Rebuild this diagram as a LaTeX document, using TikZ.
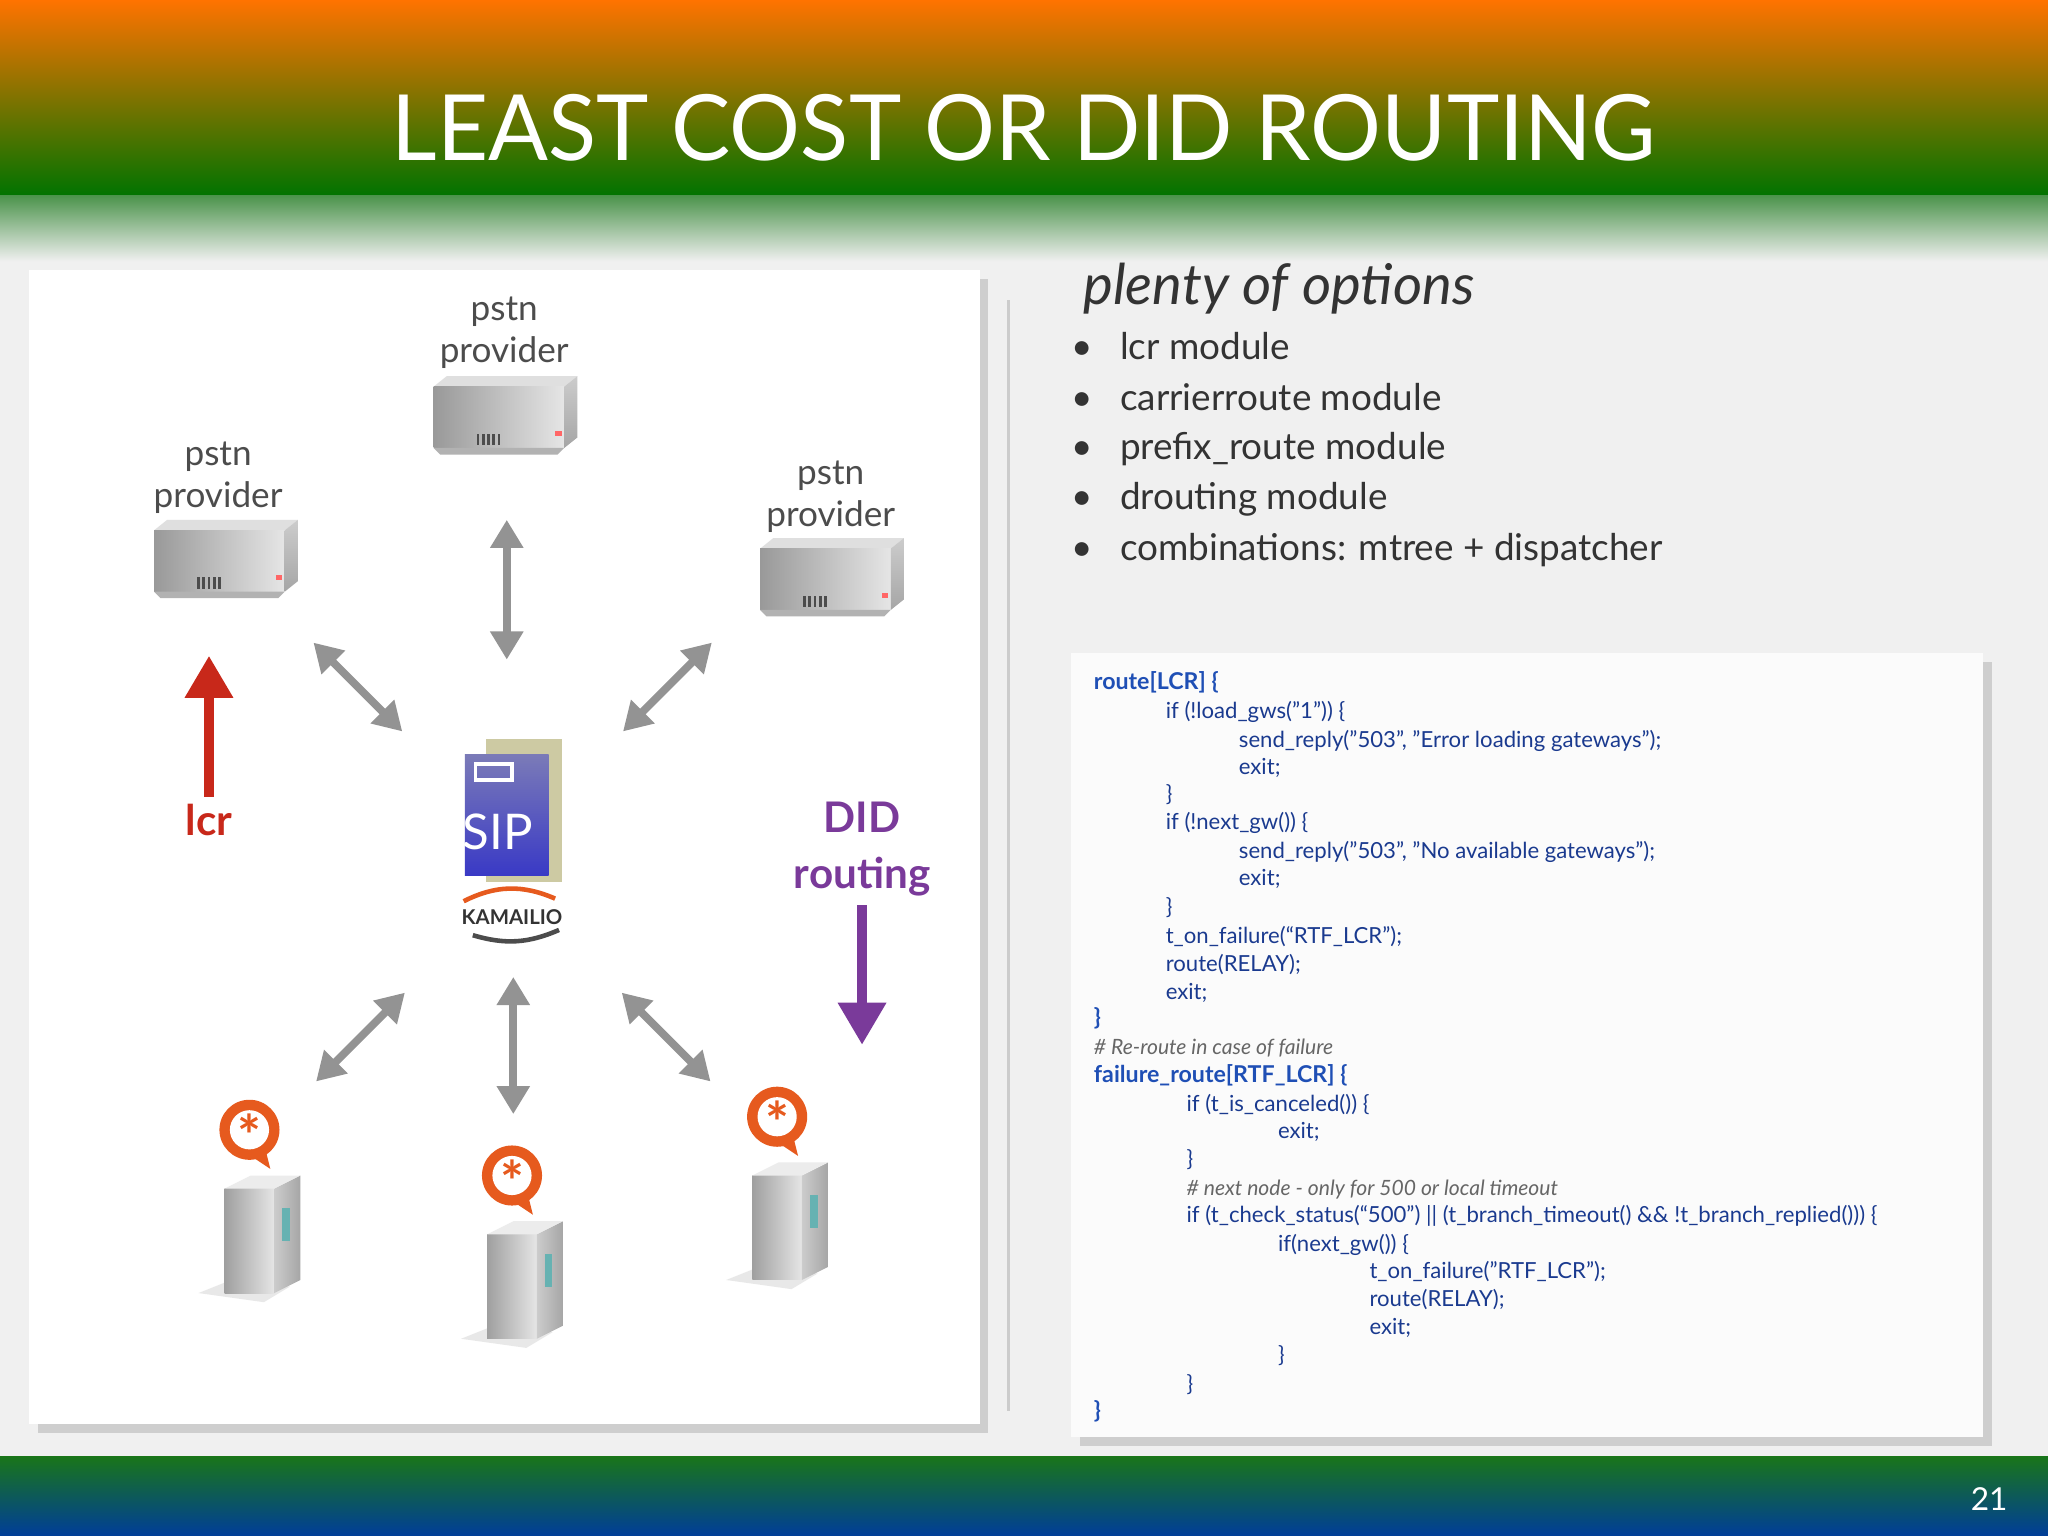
\documentclass[tikz,border=0pt]{standalone}
\usepackage{fontspec}
\setmainfont{Lato}
\usetikzlibrary{arrows.meta,shadows}
\definecolor{codeblue}{HTML}{1A3A8F}
\definecolor{headblue}{HTML}{1F4FB5}
\definecolor{lcrred}{HTML}{C8281A}
\definecolor{didpurple}{HTML}{7A3A9A}
\definecolor{orng}{HTML}{E65A1E}
\begin{document}
\begin{tikzpicture}[x=0.013061cm,y=-0.013061cm,
  code/.style={anchor=base west,font=\fontsize{6.3}{7}\selectfont,text=codeblue,inner sep=0},
  codeh/.style={code,text=headblue,font=\fontsize{6.6}{7}\selectfont\bfseries},
  codec/.style={code,text=gray!80!black,font=\fontsize{6}{7}\selectfont\itshape},
  bul/.style={anchor=base west,font=\fontsize{10.5}{12}\selectfont,text=black!80,inner sep=0},
  dbl/.style={{Triangle[width=9pt,length=8pt]}-{Triangle[width=9pt,length=8pt]},line width=2.2pt,draw=gray!85},
  lbl/.style={font=\fontsize{10}{12}\selectfont,text=black!70,align=center,inner sep=0}]
\useasboundingbox (0,0) rectangle (1568,1176);
\fill[gray!12] (0,0) rectangle (1568,1176);
\shade[top color=orange!90!red, bottom color=green!45!black] (0,0) rectangle (1568,150);
\shade[top color=green!40!black!70, bottom color=gray!12] (0,150) rectangle (1568,200);
\shade[top color=green!40!black!90, bottom color=cyan!40!blue!60!black] (0,1115) rectangle (1568,1176);
\node[text=white,font=\fontsize{26}{30}\selectfont\addfontfeature{FakeStretch=0.97}] (title) at (784,98) {LEAST COST OR DID ROUTING};
\node[text=white,font=\fontsize{9}{10}\selectfont] (pg) at (1523,1148) {21};
% left panel
\fill[white,drop shadow={opacity=0.3}] (22,207) rectangle (750,1090);
\draw[gray!40,line width=1pt] (772,230) -- (772,1080);
% pstn providers
\newcommand{\pstnbox}[2]{%
  \fill[gray!25] (#1-55,#2-22) -- (#1+45,#2-22) -- (#1+55,#2-30) -- (#1-45,#2-30) -- cycle;
  \shade[left color=gray!80,right color=gray!20] (#1-55,#2-22) rectangle (#1+45,#2+25);
  \shade[top color=gray!40,bottom color=gray!70] (#1+45,#2-22) -- (#1+55,#2-30) -- (#1+55,#2+17) -- (#1+45,#2+25) -- cycle;
  \fill[gray!60] (#1-55,#2+25) -- (#1+45,#2+25) -- (#1+40,#2+30) -- (#1-50,#2+30) -- cycle;
  \foreach \k in {0,...,4} {\fill[black!70] (#1-22+\k*4,#2+14) rectangle (#1-20+\k*4,#2+23);}
  \fill[red!60] (#1+38,#2+12) rectangle (#1+43,#2+16);}
\pstnbox{387}{318}
\pstnbox{173}{428}
\pstnbox{637}{442}
\node[lbl] (p1) at (386,255) {pstn\\provider};
\node[lbl] (p2) at (167,366) {pstn\\provider};
\node[lbl] (p3) at (636,380) {pstn\\provider};
% center SIP
\fill[gray!55!olive!45] (372,566) rectangle (430,675);
\shade[top color=blue!30!gray!80,bottom color=blue!55!gray] (356,578) rectangle (420,670);
\draw[white,line width=1pt] (364,585) rectangle (392,597);
\node[text=white,font=\fontsize{14}{14}\selectfont] (sip) at (381,637) {SIP};
\node[font=\bfseries\fontsize{5.8}{6}\selectfont,text=black!80] (kam) at (392,702) {KAMAILIO};
\draw[orng,line width=1.3pt] (355,690) to[bend left=25] (425,688);
\draw[black!70,line width=1.3pt] (362,716) to[bend right=20] (428,712);
\coordinate (c) at (392,640);
% asterisk servers
\newcommand{\astsrv}[2]{%
  \fill[gray!30,opacity=0.6] (#1-40,#2+55) -- (#1+10,#2+62) -- (#1+30,#2+50) -- (#1-15,#2+45) -- cycle;
  \shade[left color=gray!75,right color=gray!20] (#1-20,#2-25) rectangle (#1+18,#2+55);
  \shade[left color=gray!40,right color=gray!70] (#1+18,#2-25) -- (#1+38,#2-35) -- (#1+38,#2+45) -- (#1+18,#2+55) -- cycle;
  \fill[gray!15] (#1-20,#2-25) -- (#1+18,#2-25) -- (#1+38,#2-35) -- (#1,#2-35) -- cycle;
  \fill[teal!60] (#1+24,#2-10) rectangle (#1+30,#2+15);
  \fill[orng] (#1-1,#2-70) circle (23);
  \fill[orng] (#1,#2-50) -- (#1+15,#2-40) -- (#1+12,#2-52) -- cycle;
  \fill[white] (#1-1,#2-70) circle (15);
  \node[text=orng,font=\bfseries\fontsize{16}{16}\selectfont] at (#1-1,#2-66) {*};}
\astsrv{192}{935}
\astsrv{393}{970}
\astsrv{596}{925}
% arrows
\coordinate (a1s) at (388,398); \coordinate (a1e) at (388,505);
\coordinate (a2s) at (240,492); \coordinate (a2e) at (308,560);
\coordinate (a3s) at (545,492); \coordinate (a3e) at (477,560);
\coordinate (b1s) at (310,760); \coordinate (b1e) at (242,828);
\coordinate (b2s) at (393,748); \coordinate (b2e) at (393,853);
\coordinate (b3s) at (476,760); \coordinate (b3e) at (544,828);
\draw[dbl] (a1s) -- (a1e);
\draw[dbl] (a2s) -- (a2e);
\draw[dbl] (a3s) -- (a3e);
\draw[dbl] (b1s) -- (b1e);
\draw[dbl] (b2s) -- (b2e);
\draw[dbl] (b3s) -- (b3e);
\coordinate (lcrs) at (160,610); \coordinate (lcre) at (160,502);
\draw[-{Triangle[width=13pt,length=12pt]},line width=3pt,lcrred] (lcrs) -- (lcre);
\node[text=lcrred,font=\bfseries\fontsize{12}{14}\selectfont] (lcr) at (160,628) {lcr};
\node[text=didpurple,font=\bfseries\fontsize{12}{16}\selectfont,align=center] (did) at (660,650) {DID\\routing};
\coordinate (dids) at (660,693); \coordinate (dide) at (660,800);
\draw[-{Triangle[width=13pt,length=12pt]},line width=3pt,didpurple] (dids) -- (dide);
% right text
\node[anchor=base west,font=\fontsize{16}{18}\selectfont\itshape,text=black!80] (po) at (820,233) {plenty of options};
\foreach \t/\yy in {lcr module/275, carrierroute module/314, prefix\_route module/352, drouting module/390, combinations: mtree + dispatcher/429}{
  \node[bul] at (820,\yy) {\textbullet};
  \node[bul] at (857,\yy) {\t};}
% code box
\fill[white!97!gray,drop shadow={opacity=0.3}] (820,500) rectangle (1518,1100);
\node[codeh] at (837,528) {route[LCR] \{};
\node[code] at (892,550) {if (!load\_gws("1")) \{};
\node[code] at (948,572) {send\_reply("503", "Error loading gateways");};
\node[code] at (948,593) {exit;};
\node[code] at (892,614) {\}};
\node[code] at (892,635) {if (!next\_gw()) \{};
\node[code] at (948,657) {send\_reply("503", "No available gateways");};
\node[code] at (948,678) {exit;};
\node[code] at (892,700) {\}};
\node[code] at (892,722) {t\_on\_failure(“RTF\_LCR");};
\node[code] at (892,744) {route(RELAY);};
\node[code] at (892,765) {exit;};
\node[codeh] at (837,785) {\}};
\node[codec] at (837,807) {\# Re-route in case of failure};
\node[codeh] at (837,829) {failure\_route[RTF\_LCR] \{};
\node[code] at (908,851) {if (t\_is\_canceled()) \{};
\node[code] at (978,872) {exit;};
\node[code] at (908,893) {\}};
\node[codec] at (908,915) {\# next node - only for 500 or local timeout};
\node[code] at (908,936) {if (t\_check\_status(“500") || (t\_branch\_timeout() \&\& !t\_branch\_replied())) \{};
\node[code] at (978,958) {if(next\_gw()) \{};
\node[code] at (1048,979) {t\_on\_failure("RTF\_LCR");};
\node[code] at (1048,1000) {route(RELAY);};
\node[code] at (1048,1022) {exit;};
\node[code] at (978,1043) {\}};
\node[code] at (908,1065) {\}};
\node[codeh] at (837,1086) {\}};
\end{tikzpicture}
\end{document}
